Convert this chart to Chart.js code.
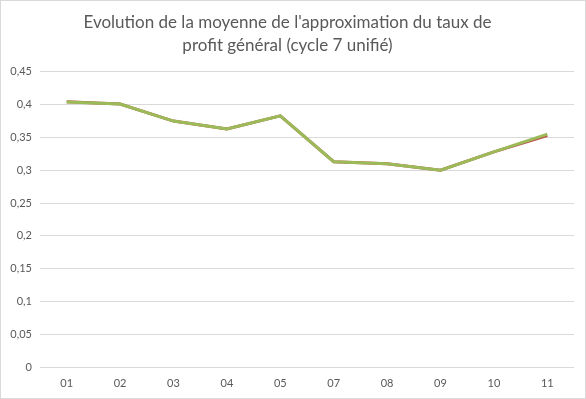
<!DOCTYPE html>
<html><head><meta charset="utf-8">
<script src="https://cdn.jsdelivr.net/npm/chart.js@4/dist/chart.umd.min.js"></script>
<style>
html,body{margin:0;padding:0;background:#fff;}
#wrap{width:586px;height:399px;box-sizing:border-box;border:1px solid #d9d9d9;position:relative;}
canvas{display:block;}
</style></head><body>
<div id="wrap"><canvas id="c" width="584" height="397"></canvas></div>
<script>
const titleLines = ["Evolution de la moyenne de l'approximation du taux de", "profit général (cycle 7 unifié)"];
const categories = ["01","02","03","04","05","07","08","09","10","11"];
const seriesRed = [0.4045, 0.401, 0.375, 0.363, 0.383, 0.313, 0.310, 0.300, 0.328, 0.353];
const seriesGreen = [0.404, 0.401, 0.375, 0.363, 0.383, 0.313, 0.310, 0.300, 0.328, 0.355];
const yTicks = [0,0.05,0.1,0.15,0.2,0.25,0.3,0.35,0.4,0.45];

new Chart(document.getElementById('c'), {
  type: 'line',
  data: {
    labels: categories,
    datasets: [
      {label:'A', data: seriesRed, borderColor:'#C0504D', borderWidth:3, pointRadius:0, tension:0, order:2},
      {label:'B', data: seriesGreen, borderColor:'#9BBB59', borderWidth:3, pointRadius:0, tension:0, order:1}
    ]
  },
  options: {
    responsive:false, animation:false,
    layout:{padding:{left:0,right:11,top:10,bottom:0}},
    plugins:{
      legend:{display:false},
      tooltip:{enabled:false},
      title:{display:true, text:titleLines, color:'#595959',
        font:{family:'Lato, "Open Sans", sans-serif', size:17, weight:'normal', lineHeight:1.35},
        padding:{top:0,bottom:15}}
    },
    scales:{
      x:{offset:true, grid:{display:false, drawTicks:false}, border:{display:false},
        ticks:{color:'#595959', font:{family:'Lato, sans-serif', size:11}, padding:10},
        afterFit:(s)=>{s.height=31;}},
      y:{min:0,max:0.45, grid:{color:'#d9d9d9', lineWidth:1, drawTicks:false}, border:{display:false},
        afterBuildTicks:(s)=>{s.ticks = yTicks.map(v=>({value:v}));},
        ticks:{color:'#595959', font:{family:'Lato, sans-serif', size:11}, padding:8,
          callback:(v)=>String(+v.toFixed(2)).replace('.',',')},
        afterFit:(s)=>{s.width=39;}}
    }
  }
});
</script></body></html>
